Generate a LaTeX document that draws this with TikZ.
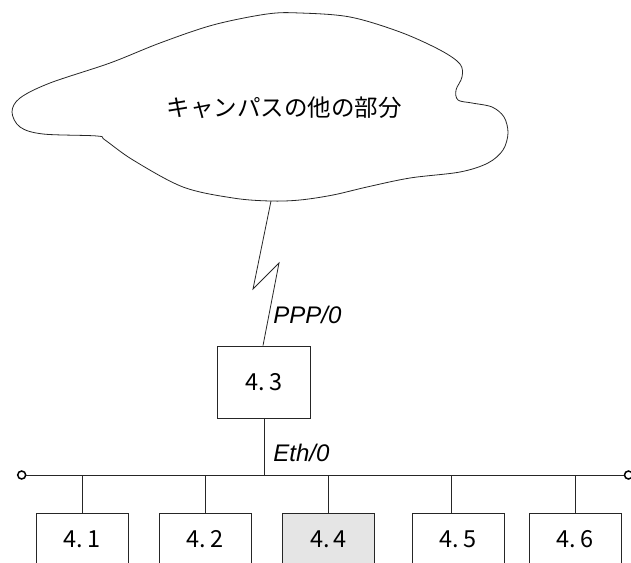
\documentclass[tikz,border=0pt]{standalone}
\usepackage{fontspec}
\setmainfont{Liberation Sans}
\newfontfamily\jpfont{Noto Sans CJK JP}
\usepackage{tikz}
\usetikzlibrary{positioning}

\begin{document}
\begin{tikzpicture}[x=1pt,y=-1pt,line width=0.8pt,draw=black!85,
  routernode/.style={rectangle,draw=black!85,minimum width=93pt,minimum height=72pt,inner sep=0pt,font=\jpfont\fontsize{23.5}{26}\selectfont},
  hostnode/.style={rectangle,draw=black!85,minimum width=92pt,minimum height=52pt,inner sep=0pt,font=\jpfont\fontsize{23.5}{26}\selectfont},
  endnode/.style={circle,draw=black,line width=1.5pt,minimum size=8pt,inner sep=0pt},
  portlabel/.style={anchor=west,inner sep=2pt,font=\fontsize{24}{28}\selectfont\itshape}]

\useasboundingbox (0,0) rectangle (631,562);
\clip (0,0) rectangle (631,562);

% cloud
\draw [black!85] plot [smooth cycle, tension=0.55] coordinates {(300,13) (350,17) (400,32) (440,50) (460,64) (462,77) (456,90) (458,100) (472,103) (492,107) (504,117) (508,133) (503,150) (488,163) (460,172) (410,178) (367,187) (333,195) (300,200) (270,201) (233,198) (183,187) (133,160) (105,140) (97,136) (43,134) (20,127) (12,112) (20,98) (50,83) (110,63) (160,43) (213,25) (267,14)};
\node [font=\jpfont\fontsize{23.5}{28}\selectfont] (campus) at (284,107.5) {キャンパスの他の部分};
\coordinate (cloudfoot) at (271,201);
\coordinate (kinka) at (253,289);
\coordinate (kinkb) at (279,263);

\node [routernode] (r43) at (264,382) {4.\,3};
\node [portlabel] (ppp) at (271,315) {PPP/0};
\node [portlabel] (eth) at (271,453) {Eth/0};

\node [endnode] (busL) at (21.7,475) {};
\node [endnode] (busR) at (628.5,475) {};

\node [hostnode] (h41) at (82,539.5) {4.\,1};
\node [hostnode] (h42) at (205,539.5) {4.\,2};
\node [hostnode,fill=black!10] (h44) at (328.5,539.5) {4.\,4};
\node [hostnode] (h45) at (458,539.5) {4.\,5};
\node [hostnode] (h46) at (575,539.5) {4.\,6};

\draw (cloudfoot) -- (kinka) -- (kinkb) -- ([xshift=-1pt]r43.north);
\draw (r43.south) -- (r43.south |- busL);
\draw (busL) -- (busR);

\draw (h41.north |- busL) -- (h41.north);
\draw (h42.north |- busL) -- (h42.north);
\draw (h44.north |- busL) -- (h44.north);
\draw ([xshift=-7pt]h45.north |- busL) -- ([xshift=-7pt]h45.north);
\draw (h46.north |- busL) -- (h46.north);
\end{tikzpicture}
\end{document}
